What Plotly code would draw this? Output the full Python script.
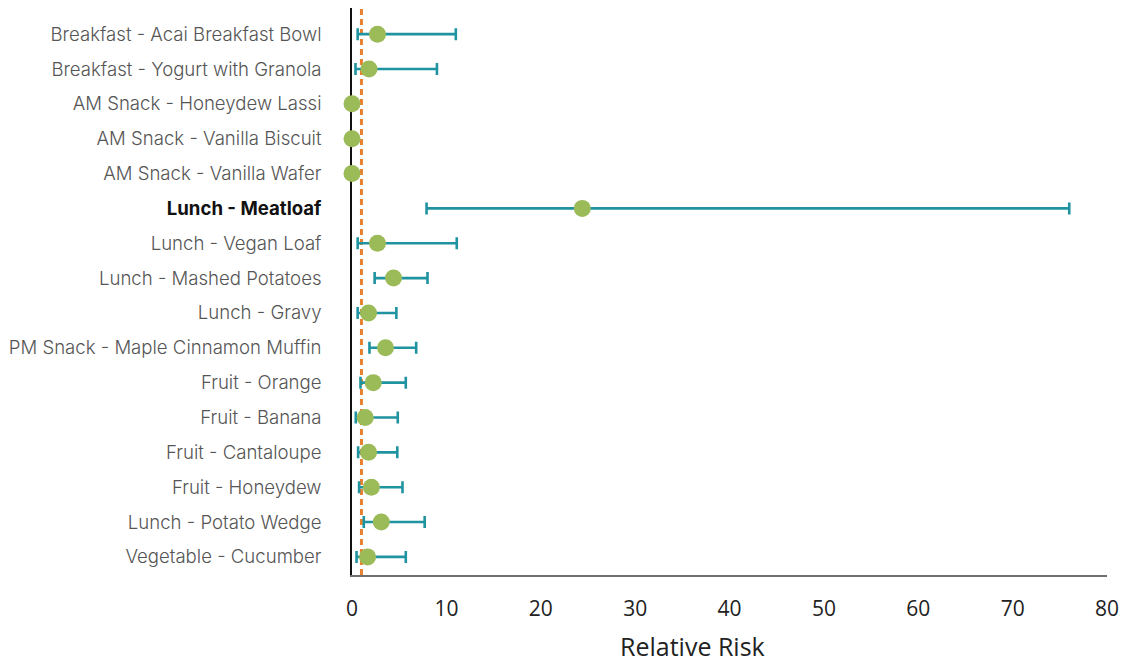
import plotly.graph_objects as go

items = [
    "Breakfast - Acai Breakfast Bowl",
    "Breakfast - Yogurt with Granola",
    "AM Snack - Honeydew Lassi",
    "AM Snack - Vanilla Biscuit",
    "AM Snack - Vanilla Wafer",
    "Lunch - Meatloaf",
    "Lunch - Vegan Loaf",
    "Lunch - Mashed Potatoes",
    "Lunch - Gravy",
    "PM Snack - Maple Cinnamon Muffin",
    "Fruit - Orange",
    "Fruit - Banana",
    "Fruit - Cantaloupe",
    "Fruit - Honeydew",
    "Lunch - Potato Wedge",
    "Vegetable - Cucumber",
]
relative_risk = [2.7, 1.8, 0, 0, 0, 24.4, 2.7, 4.4, 1.75, 3.55, 2.25, 1.4, 1.75, 2.05, 3.1, 1.65]
ci_lower = [0.6, 0.37, None, None, None, 7.9, 0.6, 2.4, 0.6, 1.85, 0.9, 0.4, 0.65, 0.75, 1.25, 0.48]
ci_upper = [11.0, 9.0, None, None, None, 76.0, 11.1, 8.0, 4.7, 6.8, 5.7, 4.85, 4.8, 5.35, 7.7, 5.7]
highlight = "Lunch - Meatloaf"
x_ticks = [0, 10, 20, 30, 40, 50, 60, 70, 80]

pos = list(range(len(items)))
has_ci = [lo is not None for lo in ci_lower]

ci_y = [p for p, h in zip(pos, has_ci) if h]
ci_x = [v for v, h in zip(relative_risk, has_ci) if h]
ci_plus = [u - v for u, v, h in zip(ci_upper, relative_risk, has_ci) if h]
ci_minus = [v - lo for lo, v, h in zip(ci_lower, relative_risk, has_ci) if h]

GREEN = "#9BBB59"
TEAL = "#1F93A0"
ORANGE = "#E8812F"

fig = go.Figure()

# confidence intervals
fig.add_trace(go.Scatter(
    x=ci_x, y=ci_y, mode="markers",
    marker=dict(size=1, color="rgba(0,0,0,0)"),
    error_x=dict(type="data", symmetric=False, array=ci_plus, arrayminus=ci_minus,
                 color=TEAL, thickness=2.6, width=6),
    hoverinfo="skip", showlegend=False, cliponaxis=False,
))

# point estimates
fig.add_trace(go.Scatter(
    x=relative_risk, y=pos, mode="markers",
    marker=dict(size=17, color=GREEN, line=dict(width=0)),
    showlegend=False, cliponaxis=False,
))

# reference line at RR = 1
fig.add_shape(type="line", x0=1, x1=1, y0=0, y1=1, xref="x", yref="paper",
              line=dict(color=ORANGE, width=3, dash="6px,4px"), layer="below")

ticktext = [
    f"<b><span style='color:#111111'>{t}</span></b>" if t == highlight else t
    for t in items
]

fig.update_layout(
    width=1127, height=666,
    margin=dict(l=352, r=17, t=8, b=91),
    paper_bgcolor="white", plot_bgcolor="white",
    xaxis=dict(
        range=[0, 80], tickvals=x_ticks, showgrid=False, zeroline=False,
        showline=True, linecolor="#6f6f6f", linewidth=2, layer="below traces",
        ticks="", tickfont=dict(family="Open Sans", size=21, color="#222222"),
        ticklabelstandoff=14,
    ),
    yaxis=dict(
        range=[15.52, -0.75], tickvals=pos, ticktext=ticktext,
        showgrid=False, zeroline=False, showline=True, linecolor="#111111",
        linewidth=1.5, ticks="", layer="below traces",
        tickfont=dict(family="Inter", size=18.6, color="#555555", weight=300),
        ticklabelstandoff=25,
    ),
)

fig.add_annotation(
    text="Relative Risk", xref="paper", yref="paper", x=0.451, y=-0.1252,
    xanchor="center", yanchor="middle", showarrow=False,
    font=dict(family="Open Sans", size=25, color="#222222"),
)

fig.write_html("out.html")
